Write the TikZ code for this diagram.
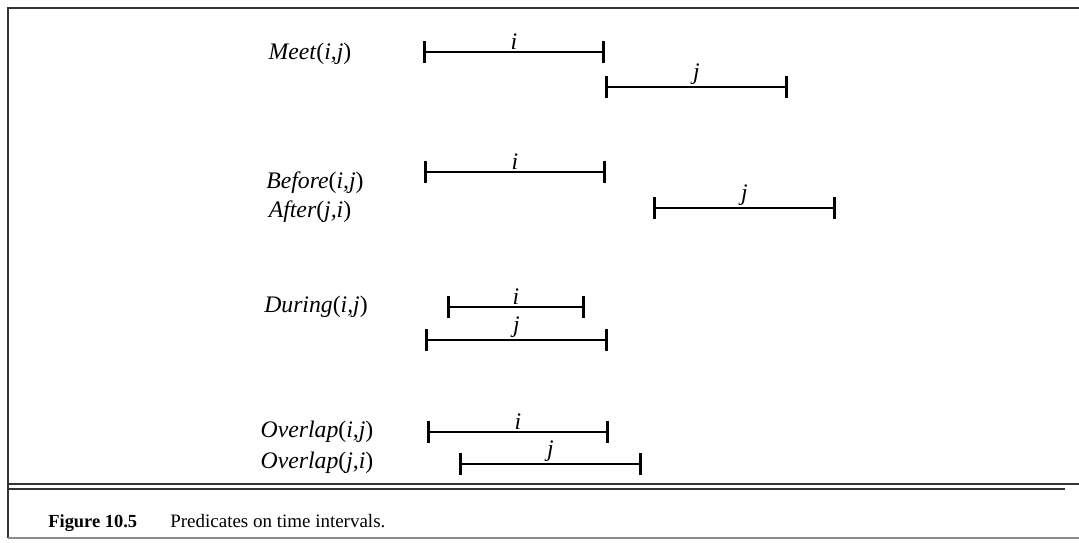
\documentclass[tikz,border=0pt]{standalone}
\usepackage{fontspec}
\setmainfont{Liberation Serif}
\usetikzlibrary{arrows.meta}

\begin{document}
\begin{tikzpicture}[x=0.02cm,y=-0.02cm,
  rel/.style={font=\fontsize{13.5}{15}\selectfont, anchor=base, inner sep=0pt},
  span/.style={line width=1.1pt, {Bar[width=12pt,line width=1.6pt]}-{Bar[width=12pt,line width=1.6pt]}},
  tag/.style={above=0pt, font=\fontsize{13.5}{15}\selectfont\itshape, inner sep=1pt},
  frame/.style={line width=1.2pt, black!80},
  capt/.style={anchor=base west, inner sep=0pt, font=\fontsize{10.8}{13}\selectfont}]
\useasboundingbox (0,0) rectangle (1079,542);

% frame and caption rule
\draw[frame] (1079,8) -- (8,8) -- (8,538);
\draw[frame, line width=1.4pt] (8,484) -- (1079,484);
\draw[frame, line width=0.8pt] (8,489) -- (1065,489);
\draw[black!45, line width=0.8pt] (8,538) -- (1079,538);

% interval ends
\coordinate (mi0) at (423,52);  \coordinate (mi1) at (605,52);
\coordinate (mj0) at (605,87);  \coordinate (mj1) at (788,87);
\coordinate (bi0) at (424,172); \coordinate (bi1) at (606,172);
\coordinate (bj0) at (653,208); \coordinate (bj1) at (836,208);
\coordinate (di0) at (447,307); \coordinate (di1) at (585,307);
\coordinate (dj0) at (425,340); \coordinate (dj1) at (608,340);
\coordinate (oi0) at (427,432); \coordinate (oi1) at (609,432);
\coordinate (oj0) at (459,464); \coordinate (oj1) at (642,464);

% predicate names
\node[rel] (meet)   at (310,59)  {\textit{Meet}(\textit{i,j})};
\node[rel] (before) at (315,188) {\textit{Before}(\textit{i,j})};
\node[rel] (after)  at (310,217) {\textit{After}(\textit{j,i})};
\node[rel] (during) at (316,312) {\textit{During}(\textit{i,j})};
\node[rel] (ovij)   at (317,437) {\textit{Overlap}(\textit{i,j})};
\node[rel] (ovji)   at (317,468) {\textit{Overlap}(\textit{j,i})};

% intervals
\draw[span] (mi0) -- node[tag] {i} (mi1);
\draw[span] (mj0) -- node[tag] {j} (mj1);
\draw[span] (bi0) -- node[tag] {i} (bi1);
\draw[span] (bj0) -- node[tag] {j} (bj1);
\draw[span] (di0) -- node[tag] {i} (di1);
\draw[span] (dj0) -- node[tag] {j} (dj1);
\draw[span] (oi0) -- node[tag] {i} (oi1);
\draw[span] (oj0) -- node[tag] {j} (oj1);

% caption
\node[capt, font=\fontsize{10.5}{13}\selectfont\bfseries] (fig) at (48,527) {Figure 10.5};
\node[capt] (cap) at (170,527) {Predicates on time intervals.};
\end{tikzpicture}
\end{document}
